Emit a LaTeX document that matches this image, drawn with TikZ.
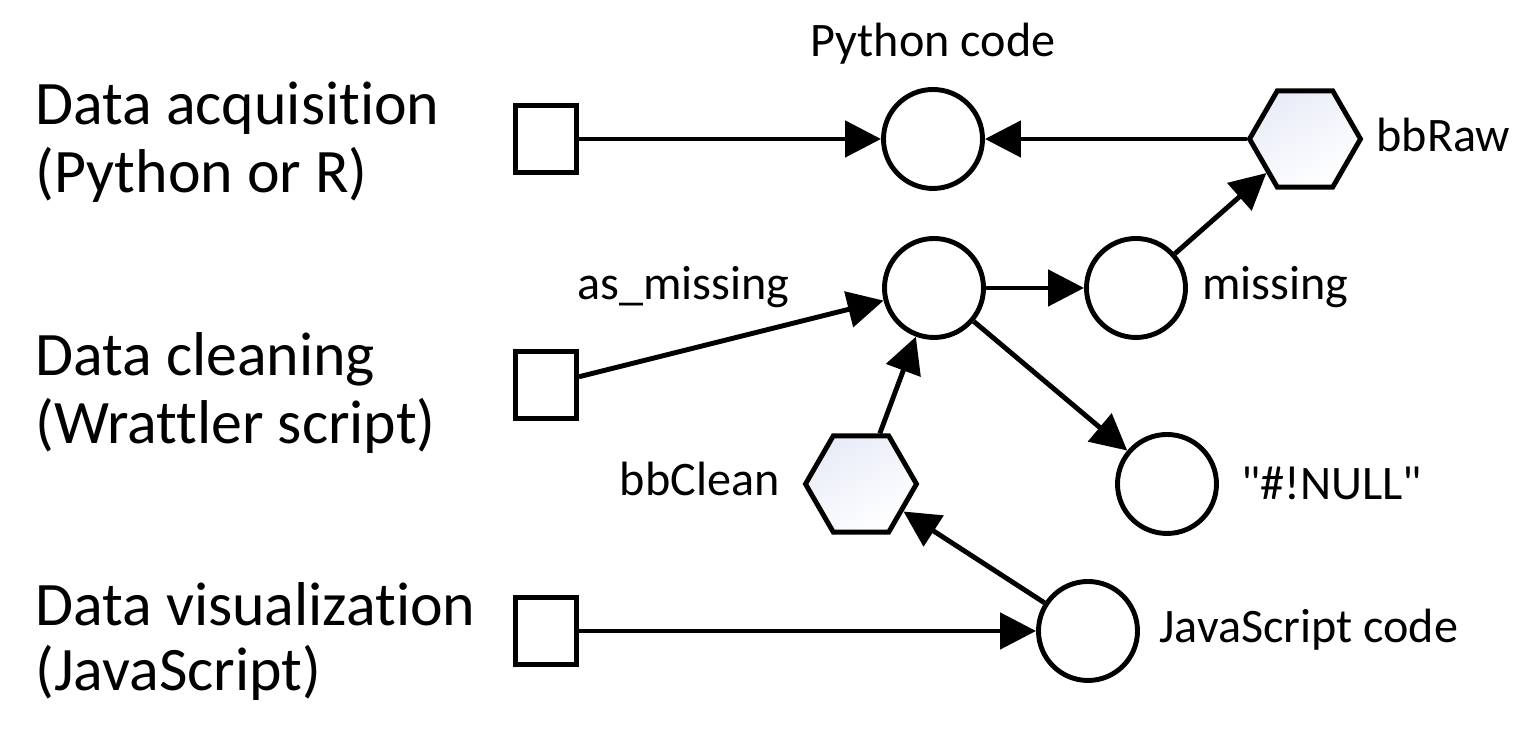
\documentclass[tikz,border=0pt]{standalone}
\usepackage{fontspec}
\newfontfamily\calfont{Carlito}[Ligatures=NoCommon]
\usetikzlibrary{shapes.geometric,arrows.meta}
\definecolor{hexfill}{RGB}{232,236,247}

\begin{document}
\begin{tikzpicture}[>={Triangle[length=0.36cm,width=0.36cm]}, line width=1.4pt,
    src/.style={draw, rectangle, minimum width=0.61cm, minimum height=0.67cm, inner sep=0pt},
    code/.style={draw, circle, minimum size=0.99cm, inner sep=0pt},
    data/.style={draw, regular polygon, regular polygon sides=6, minimum size=1.11cm, inner sep=0pt,
        top color=hexfill, bottom color=white, shading angle=30},
    stage/.style={anchor=base west, inner sep=0pt, font=\calfont\fontsize{17.6}{21}\selectfont},
    lbl/.style={inner sep=0pt, font=\calfont\fontsize{13.7}{16}\selectfont}]
    \useasboundingbox (0,0) rectangle (15.38,7.40);

    % Stage labels on the left
    \node[stage] (acqA) at (0.33,6.15) {Data acquisition};
    \node[stage] (acqB) at (0.33,5.47) {(Python or R)};
    \node[stage] (clnA) at (0.33,3.64) {Data cleaning};
    \node[stage] (clnB) at (0.33,2.96) {(Wrattler script)};
    \node[stage] (visA) at (0.33,1.14) {Data visualization};
    \node[stage] (visB) at (0.33,0.49) {(JavaScript)};

    % Source squares
    \node[src] (sqA) at (5.46,6.01) {};
    \node[src] (sqB) at (5.46,3.55) {};
    \node[src] (sqC) at (5.46,1.09) {};

    % Code cells and data frames
    \node[code] (pycode) at (9.33,6.01) {};
    \node[data] (bbraw) at (13.05,6.01) {};
    \node[code] (asmiss) at (9.34,4.52) {};
    \node[code] (miss) at (11.36,4.52) {};
    \node[code] (nullc) at (11.67,2.56) {};
    \node[data] (bbclean) at (8.61,2.56) {};
    \node[code] (jscode) at (10.88,1.09) {};

    % Labels
    \node[lbl, anchor=base] (pylbl) at (9.33,6.83) {Python code};
    \node[lbl, anchor=base west] (rawlbl) at (13.74,5.88) {bbRaw};
    \node[lbl, anchor=base west] (asmisslbl) at (5.75,4.40) {as\_missing};
    \node[lbl, anchor=base west] (misslbl) at (12.00,4.40) {missing};
    \node[lbl, anchor=base east] (cleanlbl) at (7.82,2.44) {bbClean};
    \node[lbl, anchor=base west] (nulllbl) at (12.39,2.40) {"\#!NULL"};
    \node[lbl, anchor=base west] (jslbl) at (11.57,0.97) {JavaScript code};

    % Dependencies
    \draw[->] (sqA) -- (pycode);
    \draw[->] (bbraw) -- (pycode);
    \draw[->] (miss) -- (bbraw);
    \draw[->] (sqB) -- (asmiss);
    \draw[->] (asmiss) -- (miss);
    \draw[->] (asmiss) -- (nullc);
    \draw[->] (bbclean) -- (asmiss);
    \draw[->] (jscode) -- (bbclean);
    \draw[->] (sqC) -- (jscode);
\end{tikzpicture}
\end{document}
